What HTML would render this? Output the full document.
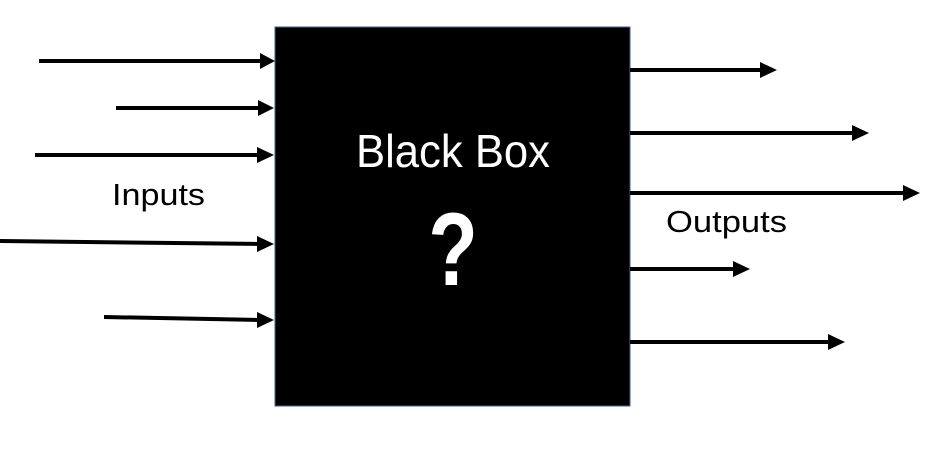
<!DOCTYPE html>
<html><head><meta charset="utf-8"><style>html,body{margin:0;padding:0;background:#fff}svg{display:block}</style></head><body>
<svg width="930" height="450" viewBox="0 0 930 450" xmlns="http://www.w3.org/2000/svg" font-family="Liberation Sans, sans-serif">
<rect x="275" y="27" width="355" height="379" fill="#000" stroke="#41628a" stroke-width="1"/>
<g stroke="#000" stroke-width="4">
<line x1="39" y1="61" x2="262" y2="61"/>
<line x1="116" y1="108" x2="262" y2="108"/>
<line x1="35" y1="155" x2="262" y2="155"/>
<line x1="0" y1="241" x2="262" y2="244"/>
<line x1="104" y1="317" x2="262" y2="320"/>
<line x1="630" y1="70" x2="762" y2="70"/>
<line x1="630" y1="133" x2="854" y2="133"/>
<line x1="630" y1="193" x2="905" y2="193"/>
<line x1="630" y1="269" x2="735" y2="269"/>
<line x1="630" y1="342" x2="830" y2="342"/>
</g>
<g fill="#000">
<polygon points="260,53 275,61 260,69"/>
<polygon points="258,100 274,108 258,116"/>
<polygon points="257,147 274,155 257,163"/>
<polygon points="257,236 274,244 257,252"/>
<polygon points="257,312 274,320 257,328"/>
<polygon points="760,62 777,70 760,78"/>
<polygon points="852,125 869,133 852,141"/>
<polygon points="903,185 920,193 903,201"/>
<polygon points="733,261 750,269 733,277"/>
<polygon points="828,334 845,342 828,350"/>
</g>
<text x="356" y="167" font-size="46" fill="#fff" textLength="194" lengthAdjust="spacingAndGlyphs">Black Box</text>
<text transform="translate(453,285) scale(0.78,1)" font-size="104" font-weight="bold" fill="#fff" text-anchor="middle">?</text>
<text x="112" y="205" font-size="31" fill="#000" textLength="93" lengthAdjust="spacingAndGlyphs">Inputs</text>
<text x="666" y="232" font-size="31" fill="#000" textLength="121" lengthAdjust="spacingAndGlyphs">Outputs</text>
</svg>
</body></html>
